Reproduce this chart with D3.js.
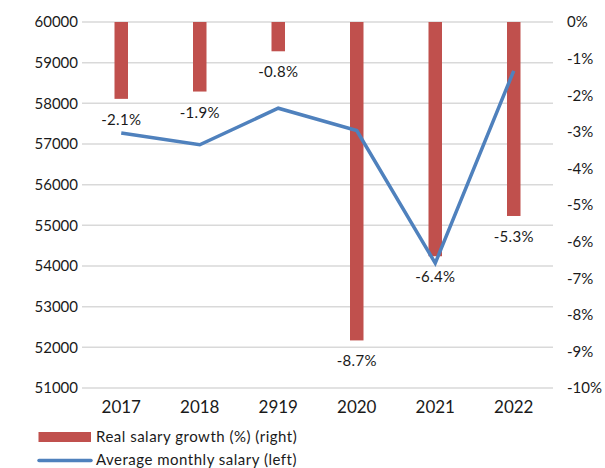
<!DOCTYPE html>
<html>
<head>
<meta charset="utf-8">
<script src="https://cdn.jsdelivr.net/npm/d3@7"></script>
<style>
  body { margin: 0; background: #fff; }
  text { font-family: Lato, "DejaVu Sans", sans-serif; fill: #1a1a1a; }
</style>
</head>
<body>
<div id="chart"></div>
<script>
// Data
const years = ["2017", "2018", "2919", "2020", "2021", "2022"];
const realGrowth = [-2.1, -1.9, -0.8, -8.7, -6.4, -5.3];         // % (right axis)
const avgSalary = [57270, 56980, 57880, 57330, 54070, 58800];    // left axis
const leftTicks = [51000, 52000, 53000, 54000, 55000, 56000, 57000, 58000, 59000, 60000];
const rightTicks = [0, -1, -2, -3, -4, -5, -6, -7, -8, -9, -10];
const legendLabels = ["Real salary growth (%) (right)", "Average monthly salary (left)"];

const W = 605, H = 468;
const plot = {left: 82, right: 553, top: 22, bottom: 388};
const red = "#C0504D", blue = "#4F81BD";

const svg = d3.select("#chart").append("svg")
    .attr("width", W)
    .attr("height", H);

// Scales
const x = d3.scaleBand().domain(years).range([plot.left, plot.right]);
const yLeft = d3.scaleLinear().domain([51000, 60000]).range([plot.bottom, plot.top]);
const yRight = d3.scaleLinear().domain([-10, 0]).range([plot.bottom, plot.top]);

// Gridlines (follow the left axis)
svg.append("g")
    .selectAll("line")
    .data(leftTicks)
    .join("line")
    .attr("x1", plot.left)
    .attr("x2", plot.right)
    .attr("y1", d => yLeft(d))
    .attr("y2", d => yLeft(d))
    .attr("stroke", "#d9d9d9")
    .attr("stroke-width", 1.5);

// Left axis
const leftAxis = svg.append("g")
    .attr("transform", `translate(${plot.left},0)`)
    .call(d3.axisLeft(yLeft).tickValues(leftTicks).tickSize(0).tickPadding(4).tickFormat(d3.format("d")));
leftAxis.select(".domain").remove();
leftAxis.selectAll("text").style("font-size", "15px");

// Right axis
const rightAxis = svg.append("g")
    .attr("transform", `translate(${plot.right},0)`)
    .call(d3.axisRight(yRight).tickValues(rightTicks).tickSize(0).tickPadding(14).tickFormat(d => d + "%"));
rightAxis.select(".domain").remove();
rightAxis.selectAll("text").style("font-size", "15px");

// Bottom category labels
const bottomAxis = svg.append("g")
    .attr("transform", `translate(0,${plot.bottom})`)
    .call(d3.axisBottom(x).tickSize(0).tickPadding(13));
bottomAxis.select(".domain").remove();
bottomAxis.selectAll("text").style("font-size", "17px");

// Bars hanging from 0%
const barW = 13.5;
svg.append("g")
    .selectAll("rect")
    .data(realGrowth)
    .join("rect")
    .attr("x", (d, i) => x(years[i]) + x.bandwidth() / 2 - barW / 2)
    .attr("y", yRight(0))
    .attr("width", barW)
    .attr("height", d => yRight(d) - yRight(0))
    .attr("fill", red);

// Line
svg.append("path")
    .datum(avgSalary)
    .attr("fill", "none")
    .attr("stroke", blue)
    .attr("stroke-width", 3.5)
    .attr("stroke-linejoin", "miter")
    .attr("d", d3.line()
        .x((d, i) => x(years[i]) + x.bandwidth() / 2)
        .y(d => yLeft(d)));

// Bar value labels
svg.append("g")
    .selectAll("text")
    .data(realGrowth)
    .join("text")
    .attr("x", (d, i) => x(years[i]) + x.bandwidth() / 2)
    .attr("y", d => yRight(d) + 26)
    .attr("text-anchor", "middle")
    .style("font-size", "15px")
    .style("letter-spacing", "0.3px")
    .text(d => d.toFixed(1) + "%");

// Legend
const legend = svg.append("g");
legend.append("rect")
    .attr("x", 38.5).attr("y", 432)
    .attr("width", 52.5).attr("height", 10)
    .attr("fill", red);
legend.append("line")
    .attr("x1", 39).attr("x2", 91)
    .attr("y1", 460.5).attr("y2", 460.5)
    .attr("stroke", blue)
    .attr("stroke-width", 3.5)
    .attr("stroke-linecap", "round");
legend.selectAll("text")
    .data(legendLabels)
    .join("text")
    .attr("x", 96)
    .attr("y", (d, i) => 442 + i * 23)
    .style("font-size", "15px")
    .style("letter-spacing", "0.5px")
    .text(d => d);
</script>
</body>
</html>
